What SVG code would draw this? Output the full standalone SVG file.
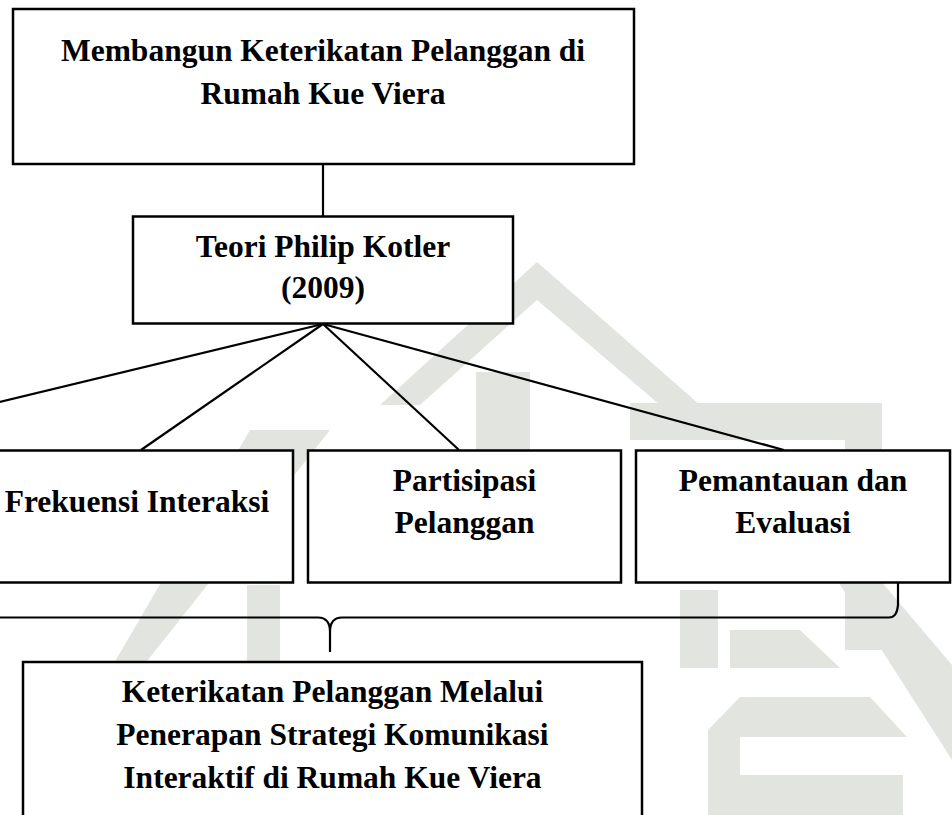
<svg xmlns="http://www.w3.org/2000/svg" width="952" height="815" viewBox="0 0 952 815">
<style>
.box{fill:#ffffff;stroke:#000;stroke-width:2.5}
.wm{fill:#e2e4df;stroke:none}
.ln{fill:none;stroke:#000;stroke-width:2.2}
text{font-family:"Liberation Serif","Times New Roman",serif;font-weight:bold;font-size:31.5px;fill:#000;text-anchor:middle}
</style>
<rect width="952" height="815" fill="#ffffff"/>
<g id="watermark">
<polygon class="wm" points="537,262 700,405 660,405 537,300 420,405 380,405"/>
<polygon class="wm" points="476,372 530,372 530,560 476,560"/>
<polygon class="wm" points="630,403 882,403 882,440 630,440"/>
<polygon class="wm" points="845,440 882,440 882,650 845,650"/>
<polygon class="wm" points="250,430 330,430 140,670 110,670"/>
<polygon class="wm" points="247,585 280,585 280,670 247,670"/>
<polygon class="wm" points="680,590 718,590 718,668 680,668"/>
<polygon class="wm" points="730,630 800,630 840,668 730,668"/>
<polygon class="wm" points="837,580 880,580 952,665 952,760"/>
<polygon class="wm" points="740,697 870,697 907,737 740,737 740,775 903,775 903,815 708,815 708,730"/>
</g>
<g id="connectors">
<line class="ln" x1="323" y1="164" x2="323" y2="216"/>
<line class="ln" x1="323" y1="324" x2="-30" y2="409"/>
<line class="ln" x1="323" y1="324" x2="141" y2="450"/>
<line class="ln" x1="323" y1="324" x2="459" y2="450"/>
<line class="ln" x1="323" y1="324" x2="784" y2="450"/>
<path class="ln" d="M -10 617.5 H 318 Q 330 617.5 330 632 V 652 M 330 632 Q 330 617.5 342 617.5 H 889 Q 897 617.5 898 605 L 898 583"/>
</g>
<g id="node-top">
<rect class="box" x="13" y="9" width="621" height="155"/>
<text x="323" y="61">Membangun Keterikatan Pelanggan di</text>
<text x="323" y="104">Rumah Kue Viera</text>
</g>
<g id="node-teori">
<rect class="box" x="133" y="216.5" width="380" height="107"/>
<text x="323" y="257">Teori Philip Kotler</text>
<text x="323" y="298">(2009)</text>
</g>
<g id="node-frekuensi">
<rect class="box" x="-19" y="450.5" width="312" height="132"/>
<text x="137" y="512">Frekuensi Interaksi</text>
</g>
<g id="node-partisipasi">
<rect class="box" x="308" y="450.5" width="313" height="132"/>
<text x="464.5" y="491">Partisipasi</text>
<text x="464.5" y="533">Pelanggan</text>
</g>
<g id="node-pemantauan">
<rect class="box" x="636" y="450.5" width="314" height="132"/>
<text x="793" y="491">Pemantauan dan</text>
<text x="793" y="533">Evaluasi</text>
</g>
<g id="node-keterikatan">
<rect class="box" x="23" y="662" width="619" height="170"/>
<text x="332.5" y="702">Keterikatan Pelanggan Melalui</text>
<text x="332.5" y="745">Penerapan Strategi Komunikasi</text>
<text x="332.5" y="788">Interaktif di Rumah Kue Viera</text>
</g>
</svg>
